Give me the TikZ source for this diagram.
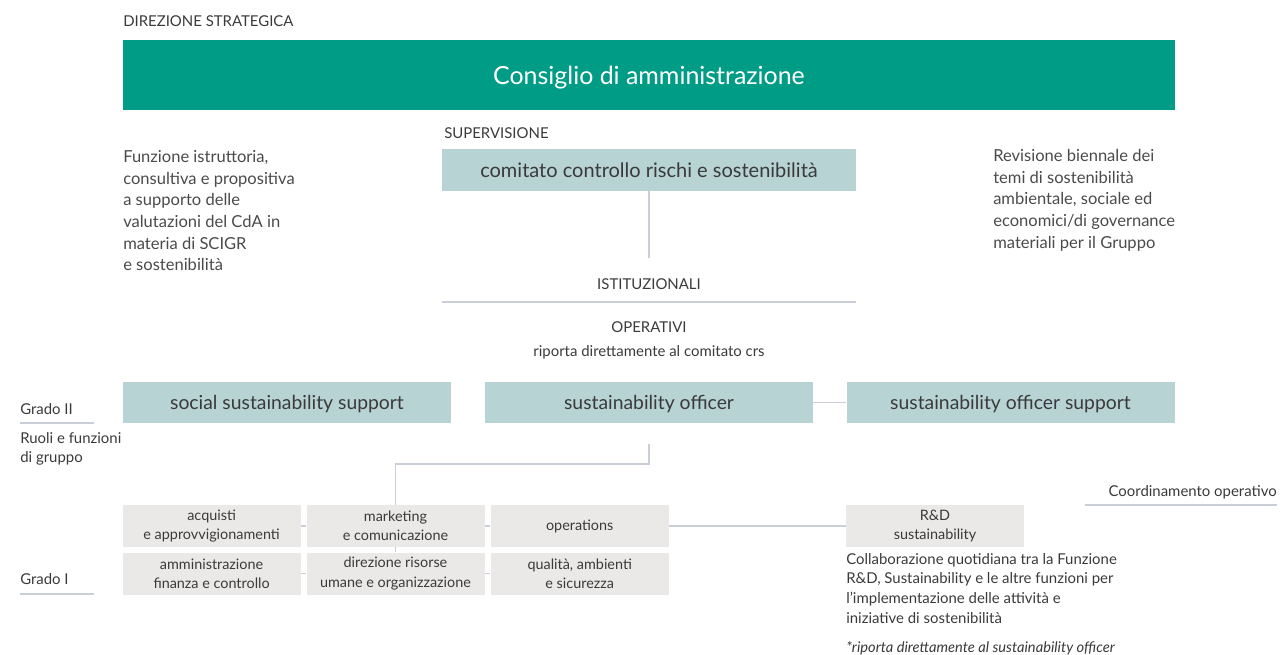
\documentclass[tikz,border=0pt]{standalone}
\usepackage{fontspec}
\setmainfont{Lato}
\definecolor{cgreen}{HTML}{009C86}
\definecolor{cteal}{HTML}{B7D3D3}
\definecolor{cgrey}{HTML}{EBE9E7}
\definecolor{ctext}{HTML}{3A3A3A}
\definecolor{cbody}{HTML}{4A4A4A}
\definecolor{cline}{HTML}{C9CED8}
\begin{document}
\begin{tikzpicture}[x=0.75pt,y=-0.75pt,
  greenbox/.style={fill=cgreen,text=white,inner sep=0,minimum width=789pt,minimum height=52.5pt,text height=15.6pt,text depth=1.6pt,font=\fontsize{18.7}{22}\selectfont},
  tealbox/.style={fill=cteal,text=ctext,inner sep=0,minimum height=31pt},
  rolebox/.style={tealbox,minimum width=246pt,text height=12.2pt,text depth=1.2pt,font=\fontsize{14.5}{17}\selectfont},
  funcbox/.style={fill=cgrey,text=ctext,align=center,inner sep=0,minimum width=133.5pt,minimum height=31.5pt,font=\fontsize{10.8}{14.5}\selectfont},
  caps/.style={text=ctext,inner sep=0,font=\fontsize{11.2}{13}\selectfont},
  body/.style={text=cbody,inner sep=0,align=left,font=\fontsize{12.4}{16.3}\selectfont},
  small/.style={text=ctext,inner sep=0,align=left,font=\fontsize{11.2}{14.7}\selectfont},
  link/.style={draw=cline,line width=1.1pt}]
\useasboundingbox (0,0) rectangle (1281,655);

% top
\node[caps,anchor=west] (dir) at (123,21) {DIREZIONE STRATEGICA};
\node[greenbox] (cda) at (649,75) {Consiglio di amministrazione};

\node[caps,anchor=west] (sup) at (444,133) {SUPERVISIONE};
\node[tealbox,minimum width=310.5pt,font=\fontsize{15}{17}\selectfont] (crs) at (649,170) {comitato controllo rischi e sostenibilità};

\node[body,anchor=north west] (left) at (123,150) {Funzione istruttoria,\\consultiva e propositiva\\a supporto delle\\valutazioni del CdA in\\materia di SCIGR\\e sostenibilità};
\node[body,anchor=north west] (right) at (993,149) {Revisione biennale dei\\temi di sostenibilità\\ambientale, sociale ed\\economici/di governance\\materiali per il Gruppo};

\coordinate (crsend) at (649,258);
\draw[link] (crs.south) -- (crsend);

\node[caps] (ist) at (649,284) {ISTITUZIONALI};
\coordinate (sepL) at (442,302);
\coordinate (sepR) at (856,302);
\draw[link] (sepL) -- (sepR);
\node[caps] (op) at (649,327) {OPERATIVI};
\node[small] (rip) at (649,352) {riporta direttamente al comitato crs};

% grado II
\node[rolebox] (social) at (287,402.5) {social sustainability support};
\node[rolebox] (officer) at (649,402.5) {sustainability officer};
\node[rolebox] (support) at (1010.5,402.5) {sustainability officer support};
\draw[link] (officer.east) -- (support.west);

\node[small,anchor=west] (g2) at (20,409) {Grado II};
\coordinate (g2a) at (20,423);
\coordinate (g2b) at (94,423);
\draw[link] (g2a) -- (g2b);
\node[small,anchor=north west] (ruoli) at (20,432) {Ruoli e funzioni\\di gruppo};

% grado I
\node[funcbox] (acq) at (211.6,526) {acquisti\\e approvvigionamenti};
\node[funcbox] (mkt) at (395.5,526) {marketing\\e comunicazione};
\node[funcbox] (ops) at (579.7,526) {operations};
\node[funcbox] (amm) at (211.6,573.5) {amministrazione\\finanza e controllo};
\node[funcbox] (drs) at (395.5,573.5) {direzione risorse\\umane e organizzazione};
\node[funcbox] (qas) at (579.7,573.5) {qualità, ambienti\\e sicurezza};
\node[funcbox] (rd) at (935,526) {R\&D\\sustainability};

\coordinate (offdown) at (649,444);
\draw[link] (offdown) |- (mkt.north |- 0,464) -- (mkt.north);
\draw[link] (acq.east) -- (mkt.west);
\draw[link] (mkt.east) -- (ops.west);
\draw[link] (ops.east) -- (rd.west);
\draw[link] (amm.east) -- (drs.west);
\draw[link] (drs.east) -- (qas.west);
\draw[link] (mkt.south) -- (drs.north);

\node[small,anchor=west] (g1) at (20,579) {Grado I};
\coordinate (g1a) at (20,594);
\coordinate (g1b) at (94,594);
\draw[link] (g1a) -- (g1b);

\node[small,anchor=east] (coord) at (1277,492) {Coordinamento operativo};
\coordinate (coa) at (1085,505);
\coordinate (cob) at (1277,505);
\draw[link] (coa) -- (cob);

\node[small,anchor=north west] (coll) at (846,553) {Collaborazione quotidiana tra la Funzione\\R\&D, Sustainability e le altre funzioni per\\l’implementazione delle attività e\\iniziative di sostenibilità};
\node[small,anchor=west,font=\fontsize{11}{14.6}\selectfont\itshape] (nota) at (846,648) {*riporta direttamente al sustainability officer};
\end{tikzpicture}
\end{document}
